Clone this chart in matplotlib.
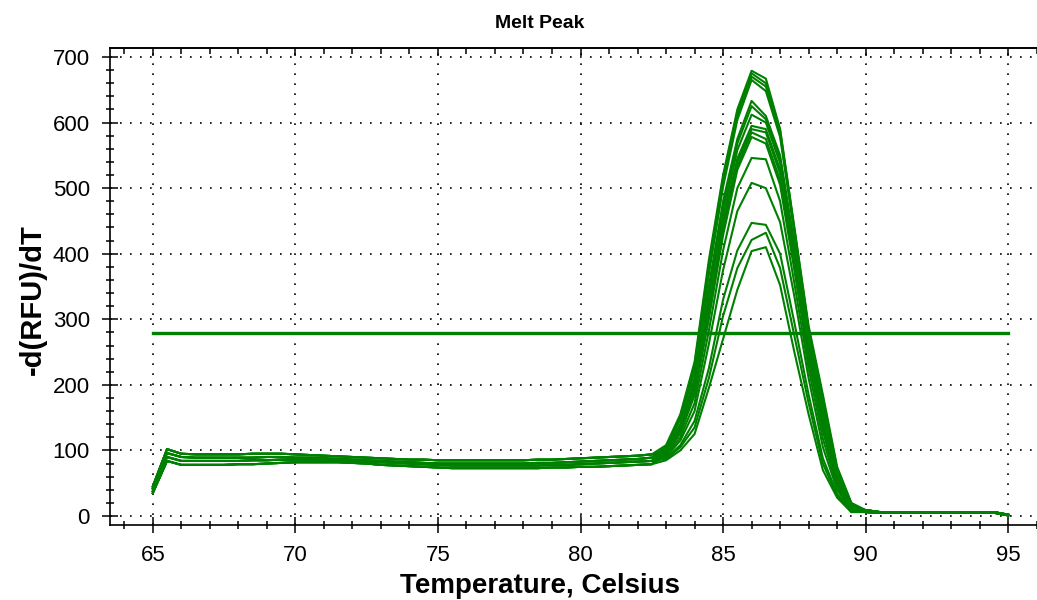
"""
Melt peak curves (-dRFU/dT vs temperature) with threshold line.
"""

import numpy as np
import matplotlib.pyplot as plt
from matplotlib.ticker import MultipleLocator

plt.rcParams["font.family"] = ["Liberation Sans", "DejaVu Sans"]

# temperature grid, 65 -> 95 C in 0.5 C steps
temps = np.arange(65.0, 95.01, 0.5)

# flat region 65.0 .. 82.5 (36 points), four bands of the bundle
base_high = [45, 102, 95, 94, 94, 94, 94, 95, 95, 95, 94, 93, 92, 91, 90, 89, 88, 87,
             86, 86, 85, 85, 85, 85, 85, 85, 85, 86, 86, 87, 88, 89, 90, 91, 92, 94]
base_midhigh = [42, 96, 90, 89, 89, 89, 89, 89, 90, 90, 89, 89, 88, 87, 86, 85, 84, 83,
                82, 81, 80, 80, 80, 80, 80, 80, 80, 81, 81, 82, 83, 84, 85, 86, 87, 89]
base_midlow = [38, 90, 84, 84, 84, 84, 84, 85, 85, 86, 86, 86, 85, 85, 84, 83, 82, 81,
               80, 79, 78, 77, 77, 77, 77, 77, 77, 77, 78, 78, 79, 80, 81, 82, 83, 84]
base_low = [35, 84, 78, 78, 78, 78, 79, 79, 80, 81, 82, 82, 82, 82, 81, 80, 78, 77,
            76, 75, 74, 73, 73, 73, 73, 73, 73, 73, 74, 74, 75, 75, 76, 77, 78, 79]

# peak region 83.0 .. 89.5 (14 points), one row per well
peaks = [
    [108, 155, 235, 390, 520, 620, 679, 667, 590, 440, 290, 185, 75, 20],
    [106, 152, 230, 382, 515, 615, 675, 660, 588, 438, 285, 180, 72, 19],
    [104, 150, 225, 375, 508, 610, 670, 655, 582, 435, 282, 176, 70, 18],
    [103, 147, 220, 368, 502, 604, 665, 648, 578, 432, 280, 172, 68, 17],
    [100, 140, 210, 350, 480, 575, 633, 610, 550, 415, 268, 160, 62, 15],
    [99, 137, 205, 342, 470, 568, 625, 605, 545, 410, 262, 155, 60, 14],
    [98, 134, 200, 332, 460, 558, 612, 600, 538, 402, 258, 150, 58, 13],
    [97, 132, 196, 322, 450, 545, 595, 590, 528, 395, 252, 145, 55, 12],
    [96, 130, 192, 316, 442, 540, 590, 585, 522, 390, 248, 140, 53, 12],
    [95, 128, 188, 308, 435, 533, 585, 575, 512, 382, 242, 135, 50, 11],
    [94, 126, 184, 300, 428, 528, 578, 568, 505, 375, 238, 130, 48, 10],
    [92, 120, 172, 282, 405, 500, 546, 544, 480, 355, 225, 118, 44, 9],
    [90, 115, 160, 262, 375, 465, 508, 500, 448, 335, 210, 105, 40, 8],
    [88, 108, 145, 225, 330, 405, 447, 444, 400, 295, 185, 88, 34, 7],
    [87, 105, 135, 210, 305, 378, 421, 432, 378, 275, 172, 80, 30, 6],
    [85, 100, 125, 195, 270, 345, 404, 410, 352, 250, 155, 70, 28, 6],
]

# tail 90.0 .. 95.0 (11 points)
tail_a = [9, 6, 6, 6, 6, 6, 6, 6, 6, 6, 2]
tail_b = [6, 5, 5, 5, 5, 5, 5, 5, 5, 5, 1]

bases = [base_high, base_midhigh, base_midlow, base_low]
threshold = 279

fig = plt.figure(figsize=(10.37, 6.0), dpi=100)
ax = fig.add_axes([110 / 1037, 75 / 600, 941 / 1037, 477 / 600])

green = "#008000"
for i, seg in enumerate(peaks):
    base = bases[i % 4]
    tail = tail_a if i % 2 == 0 else tail_b
    ax.plot(temps, base + seg + tail, color=green, lw=1.5, zorder=3)

ax.plot([65, 95], [threshold, threshold], color=green, lw=2.4, zorder=4)

ax.set_xlim(63.5, 96.5)
ax.set_ylim(-13.7, 713.7)
ax.xaxis.set_major_locator(MultipleLocator(5))
ax.xaxis.set_minor_locator(MultipleLocator(1))
ax.yaxis.set_major_locator(MultipleLocator(100))
ax.yaxis.set_minor_locator(MultipleLocator(20))

ax.grid(True, which="major", color="black", lw=1.2, linestyle=(0, (1, 5)))
ax.tick_params(which="major", direction="inout", length=11, width=1.1,
               labelsize=16, pad=9, color="black")
ax.tick_params(which="minor", direction="inout", length=6, width=1.1)
ax.tick_params(axis="x", which="major", pad=9)
ax.spines["right"].set_visible(False)
for s in ["left", "bottom", "top"]:
    ax.spines[s].set_linewidth(1.2)

# inward ticks on the top edge
top = ax.secondary_xaxis("top")
top.xaxis.set_major_locator(MultipleLocator(5))
top.xaxis.set_minor_locator(MultipleLocator(1))
top.tick_params(which="major", direction="in", length=6, width=1.1, labeltop=False)
top.tick_params(which="minor", direction="in", length=4, width=1.1)
top.spines["top"].set_linewidth(1.2)

fig.text(540 / 1037, 1 - 23 / 600, "Melt Peak", ha="center", va="center",
         fontsize=14, fontweight="bold")
fig.text(540 / 1037, 1 - 593 / 600, "Temperature, Celsius", ha="center",
         va="baseline", fontsize=20, fontweight="bold")
fig.text(33 / 1037, 1 - 300 / 600, "-d(RFU)/dT", ha="center", va="center",
         rotation=90, fontsize=21, fontweight="bold")

fig.savefig("out.png", dpi=100)
